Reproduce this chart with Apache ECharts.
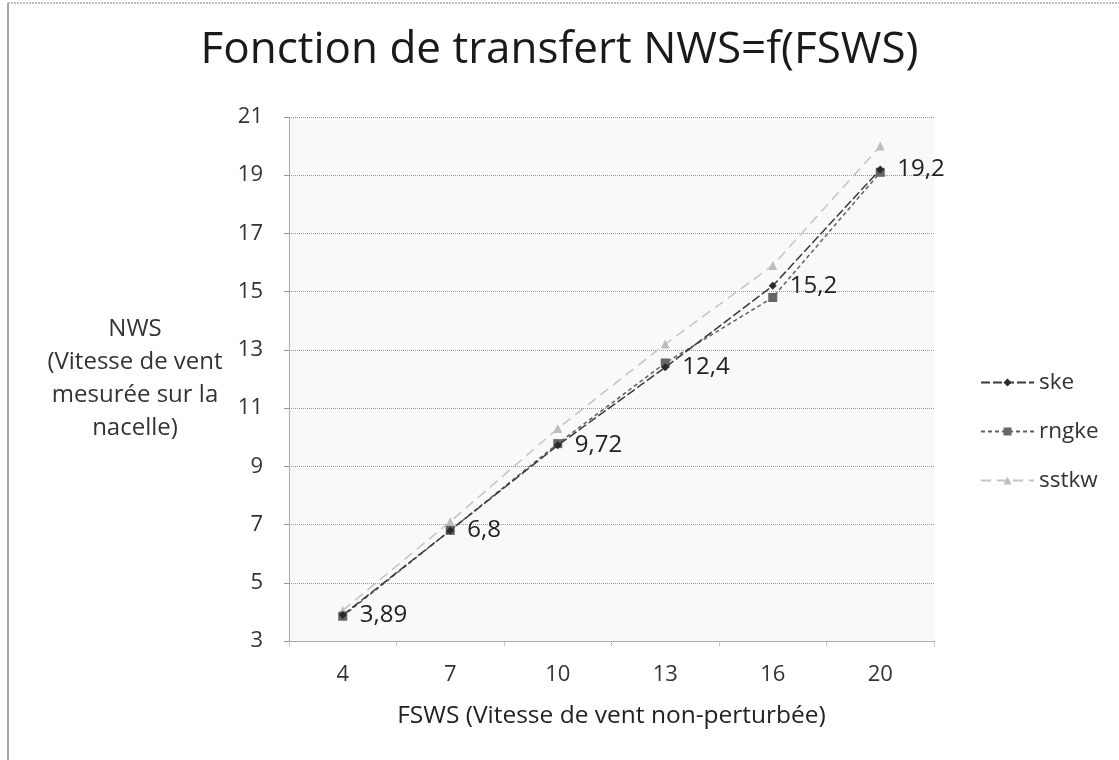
<!DOCTYPE html>
<html>
<head>
<meta charset="utf-8">
<title>Fonction de transfert NWS=f(FSWS)</title>
<script src="https://cdn.jsdelivr.net/npm/echarts@6/dist/echarts.min.js"></script>
<style>
  html, body { margin: 0; padding: 0; background: #fff; }
  #chart { width: 1119px; height: 760px; }
</style>
</head>
<body>
<div id="chart"></div>
<script>
// Free-stream wind speed (FSWS) categories
const fsws = ['4', '7', '10', '13', '16', '20'];

// Nacelle wind speed (NWS) for each turbulence model
const ske   = [3.89, 6.8, 9.72, 12.4, 15.2, 19.2];
const rngke = [3.85, 6.8, 9.78, 12.55, 14.8, 19.1];
const sstkw = [4.05, 7.1, 10.3, 13.2, 15.9, 20.0];

const FONT = '"Open Sans", "Liberation Sans", sans-serif';
const fmtComma = v => String(v).replace('.', ',');

const chart = echarts.init(document.getElementById('chart'), null, { renderer: 'canvas' });

chart.setOption({
  backgroundColor: '#ffffff',
  animation: false,
  title: {
    text: 'Fonction de transfert NWS=f(FSWS)',
    left: 'center',
    top: 23,
    textStyle: { fontFamily: FONT, fontSize: 44, fontWeight: 'normal', color: '#1a1a1a' }
  },
  grid: {
    left: 289, right: 185, top: 117, bottom: 119,
    show: true, backgroundColor: '#f9f9f9', borderWidth: 0
  },
  legend: {
    orient: 'vertical',
    left: 975, top: 366,
    itemGap: 26,
    itemWidth: 53, itemHeight: 10,
    textStyle: { fontFamily: FONT, fontSize: 22.5, color: '#333' },
    data: ['ske', 'rngke', 'sstkw']
  },
  graphic: [
    { type: 'line', shape: { x1: 8, y1: 3, x2: 8, y2: 760 }, style: { stroke: '#888', lineWidth: 1.5 } },
    { type: 'line', shape: { x1: 8, y1: 3, x2: 1119, y2: 3 }, style: { stroke: '#aaa', lineWidth: 1.5, lineDash: [2, 1] } },
    {
      // Y axis title, centred in the left margin
      type: 'text', x: 135, y: 313,
      style: {
        text: 'NWS\n(Vitesse de vent\nmesurée sur la\nnacelle)',
        fontFamily: FONT, fontSize: 24, lineHeight: 33,
        fill: '#333', align: 'center', verticalAlign: 'top'
      }
    }
  ],
  xAxis: {
    type: 'category',
    data: fsws,
    boundaryGap: true,
    name: 'FSWS (Vitesse de vent non-perturbée)',
    nameLocation: 'middle',
    nameGap: 63,
    nameTextStyle: { fontFamily: FONT, fontSize: 24.5, color: '#222' },
    axisLine: { lineStyle: { color: '#999', type: 'dotted', width: 1 } },
    axisTick: { show: true, length: 5, lineStyle: { color: '#999', type: 'dotted' } },
    axisLabel: { fontFamily: FONT, fontSize: 22, color: '#333', margin: 23 },
    splitLine: { show: false }
  },
  yAxis: {
    type: 'value',
    min: 3, max: 21, interval: 2,
    axisLine: { show: true, lineStyle: { color: '#999', type: 'dotted', width: 1 } },
    axisTick: { show: true, length: 5, lineStyle: { color: '#999' } },
    axisLabel: { fontFamily: FONT, fontSize: 22, color: '#333', margin: 26 },
    splitLine: { show: true, lineStyle: { color: '#999', type: 'dotted', width: 1 } }
  },
  series: [
    {
      name: 'ske', type: 'line', data: ske, z: 4,
      symbol: 'diamond', symbolSize: 8,
      itemStyle: { color: '#2a2a2a' },
      lineStyle: { color: '#3a3a3a', width: 1.5, type: [9, 3] },
      label: {
        show: true, position: 'right', distance: 13,
        formatter: p => fmtComma(p.value),
        fontFamily: FONT, fontSize: 24, color: '#222'
      }
    },
    {
      name: 'rngke', type: 'line', data: rngke, z: 3,
      symbol: 'rect', symbolSize: 9,
      itemStyle: { color: '#666' },
      lineStyle: { color: '#606060', width: 1.5, type: [4, 3] }
    },
    {
      name: 'sstkw', type: 'line', data: sstkw, z: 2,
      symbol: 'triangle', symbolSize: 9,
      itemStyle: { color: '#bdbdbd' },
      lineStyle: { color: '#c4c4c4', width: 1.5, type: [10, 6] }
    }
  ]
});
</script>
</body>
</html>
